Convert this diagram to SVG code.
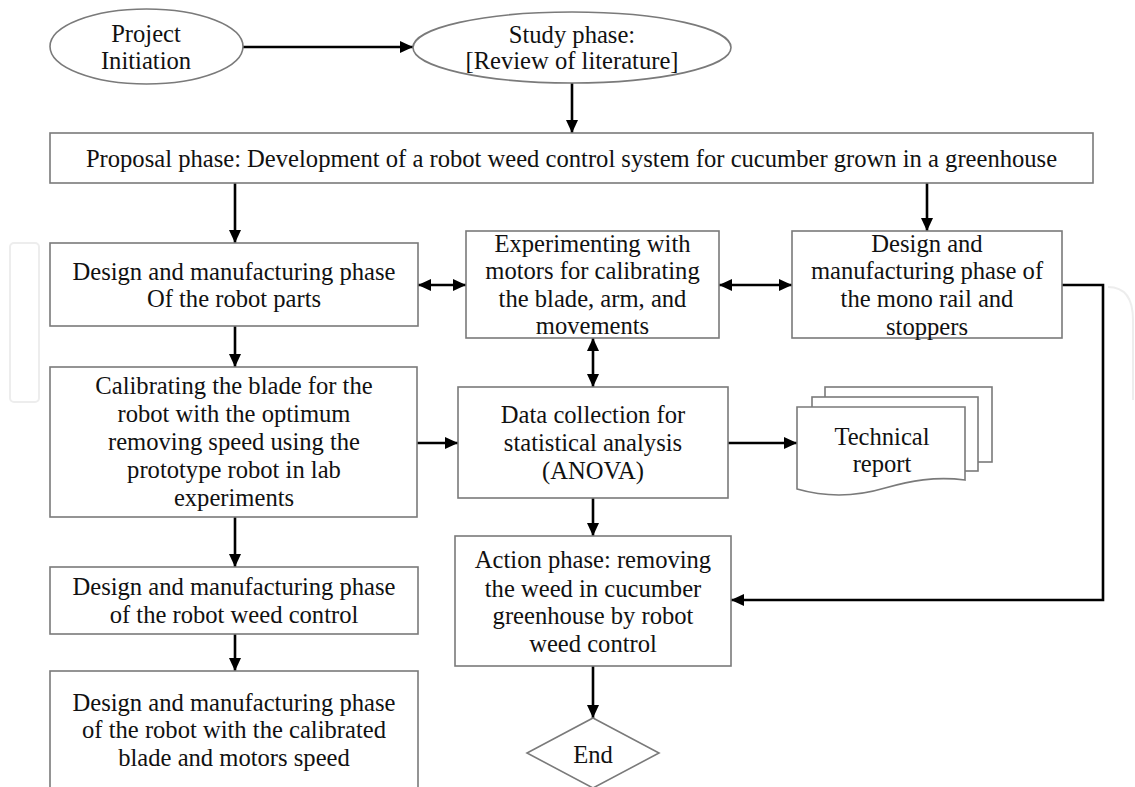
<svg xmlns="http://www.w3.org/2000/svg" width="1135" height="787" viewBox="0 0 1135 787">
<defs>
<style>
.box{fill:#fff;stroke:#7a7a7a;stroke-width:1.6}
.t{font-family:"Liberation Serif","Times New Roman",serif;font-size:24.6px;fill:#111;text-anchor:middle}
.c{fill:none;stroke:#000;stroke-width:2.6}
.wm{fill:none;stroke:#ededed;stroke-width:2}
</style>
<marker id="ah" markerUnits="userSpaceOnUse" markerWidth="13" markerHeight="12" refX="13" refY="6" orient="auto-start-reverse" viewBox="0 0 13 12">
<path d="M0,0 L13,6 L0,12 z" fill="#000"/>
</marker>
</defs>
<rect width="1135" height="787" fill="#fff"/>
<g id="watermark">
<rect class="wm" x="10" y="243" width="29" height="159" rx="4"/>
<path class="wm" d="M1108,287 Q1133,287 1133,320 V400"/>
</g>
<g id="connectors">
<line class="c" x1="243" y1="47" x2="413" y2="47" marker-end="url(#ah)"/>
<line class="c" x1="572" y1="83" x2="572" y2="133" marker-end="url(#ah)"/>
<line class="c" x1="235" y1="183" x2="235" y2="243" marker-end="url(#ah)"/>
<line class="c" x1="927" y1="183" x2="927" y2="231" marker-end="url(#ah)"/>
<line class="c" x1="418" y1="285" x2="466" y2="285" marker-start="url(#ah)" marker-end="url(#ah)"/>
<line class="c" x1="719" y1="285" x2="792" y2="285" marker-start="url(#ah)" marker-end="url(#ah)"/>
<line class="c" x1="593" y1="338" x2="593" y2="387" marker-start="url(#ah)" marker-end="url(#ah)"/>
<line class="c" x1="235" y1="326" x2="235" y2="367" marker-end="url(#ah)"/>
<line class="c" x1="417" y1="443" x2="458" y2="443" marker-end="url(#ah)"/>
<line class="c" x1="728" y1="443" x2="797" y2="443" marker-end="url(#ah)"/>
<line class="c" x1="593" y1="498" x2="593" y2="536" marker-end="url(#ah)"/>
<path class="c" d="M1062,285 H1103 V600 H731" marker-end="url(#ah)"/>
<line class="c" x1="235" y1="517" x2="235" y2="567" marker-end="url(#ah)"/>
<line class="c" x1="235" y1="634" x2="235" y2="671" marker-end="url(#ah)"/>
<line class="c" x1="593" y1="666" x2="593" y2="718" marker-end="url(#ah)"/>
</g>
<g id="project">
<ellipse class="box" cx="146.5" cy="46.5" rx="96.5" ry="37.5"/>
<text class="t" x="146" y="42">Project</text>
<text class="t" x="146" y="69">Initiation</text>
</g>
<g id="study">
<ellipse class="box" cx="572" cy="47.5" rx="159" ry="35.5"/>
<text class="t" x="572" y="43">Study phase:</text>
<text class="t" x="572" y="69">[Review of literature]</text>
</g>
<g id="proposal">
<rect class="box" x="50" y="133" width="1043" height="50"/>
<text class="t" x="571.5" y="167">Proposal phase: Development of a robot weed control system for cucumber grown in a greenhouse</text>
</g>
<g id="design-parts">
<rect class="box" x="50" y="243" width="368" height="83"/>
<text class="t" x="234" y="280">Design and manufacturing phase</text>
<text class="t" x="234" y="307">Of the robot parts</text>
</g>
<g id="experimenting">
<rect class="box" x="466" y="231" width="253" height="107"/>
<text class="t" x="592.5" y="252">Experimenting with</text>
<text class="t" x="592.5" y="279">motors for calibrating</text>
<text class="t" x="592.5" y="307">the blade, arm, and</text>
<text class="t" x="592.5" y="334">movements</text>
</g>
<g id="mono-rail">
<rect class="box" x="792" y="231" width="270" height="107"/>
<text class="t" x="927" y="252">Design and</text>
<text class="t" x="927" y="279">manufacturing phase of</text>
<text class="t" x="927" y="307">the mono rail and</text>
<text class="t" x="927" y="335">stoppers</text>
</g>
<g id="calibrating">
<rect class="box" x="50" y="367" width="367" height="150"/>
<text class="t" x="234" y="394">Calibrating the blade for the</text>
<text class="t" x="234" y="422">robot with the optimum</text>
<text class="t" x="234" y="450">removing speed using the</text>
<text class="t" x="234" y="478">prototype robot in lab</text>
<text class="t" x="234" y="506">experiments</text>
</g>
<g id="data-collection">
<rect class="box" x="458" y="387" width="270" height="111"/>
<text class="t" x="593" y="423">Data collection for</text>
<text class="t" x="593" y="451">statistical analysis</text>
<text class="t" x="593" y="479">(ANOVA)</text>
</g>
<g id="technical-report">
<rect class="box" x="825" y="387" width="167" height="75"/>
<rect class="box" x="812" y="397" width="166" height="74"/>
<path class="box" d="M797,407 H965 V480 C935,476 910,481 885,488 C855,497 825,497 797,489 Z"/>
<text class="t" x="882" y="445">Technical</text>
<text class="t" x="882" y="472">report</text>
</g>
<g id="weed-control">
<rect class="box" x="50" y="567" width="368" height="67"/>
<text class="t" x="234" y="595">Design and manufacturing phase</text>
<text class="t" x="234" y="623">of the robot weed control</text>
</g>
<g id="action">
<rect class="box" x="455" y="536" width="276" height="130"/>
<text class="t" x="593" y="568">Action phase: removing</text>
<text class="t" x="593" y="597">the weed in cucumber</text>
<text class="t" x="593" y="624">greenhouse by robot</text>
<text class="t" x="593" y="652">weed control</text>
</g>
<g id="calibrated-robot">
<rect class="box" x="50" y="671" width="368" height="130"/>
<text class="t" x="234" y="711">Design and manufacturing phase</text>
<text class="t" x="234" y="738">of the robot with the calibrated</text>
<text class="t" x="234" y="766">blade and motors speed</text>
</g>
<g id="end">
<polygon class="box" points="593,718 659,753 593,788 527,753"/>
<text class="t" x="593" y="763">End</text>
</g>
</svg>
